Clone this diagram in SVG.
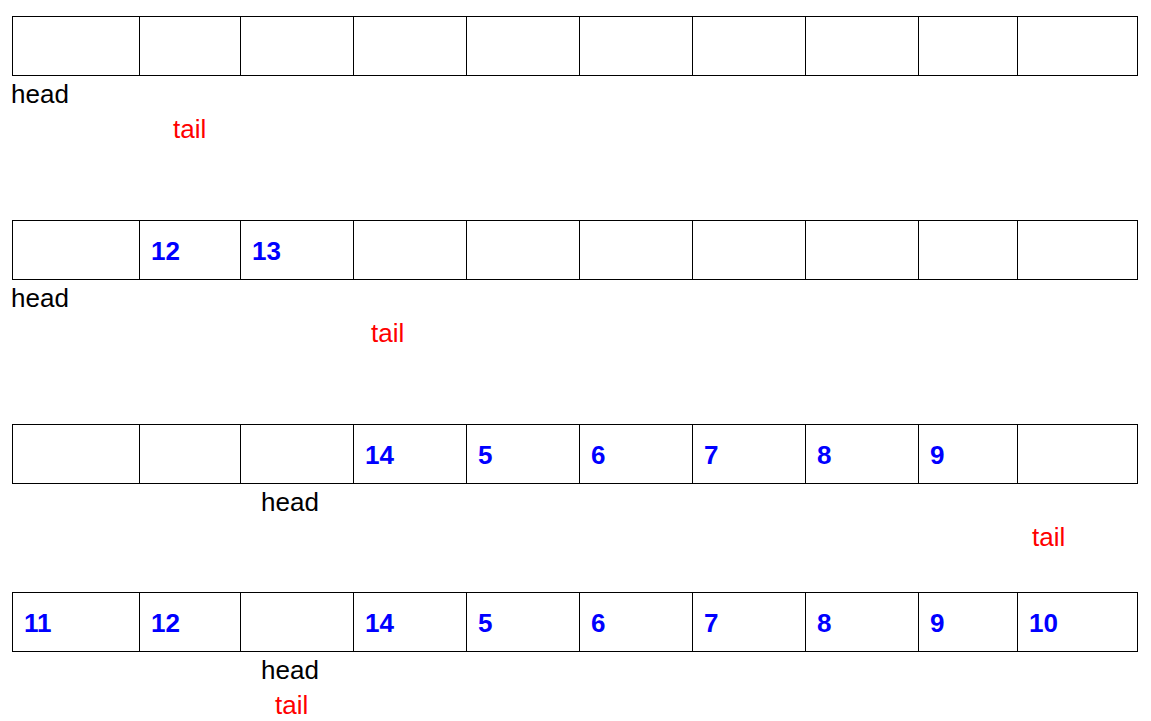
<svg xmlns="http://www.w3.org/2000/svg" width="1151" height="721" viewBox="0 0 1151 721">
<style>
.c{fill:#fff;stroke:#000;stroke-width:1}
.v{font-family:"Liberation Sans",Arial,sans-serif;font-size:26px;font-weight:bold;fill:#0000ff}
.h{font-family:"Liberation Sans",Arial,sans-serif;font-size:26px;fill:#000}
.t{font-family:"Liberation Sans",Arial,sans-serif;font-size:26px;fill:#ff0000}
</style>
<rect width="1151" height="721" fill="#fff"/>
<g id="row1">
<rect class="c" x="12.5" y="16.5" width="127" height="59"/>
<rect class="c" x="139.5" y="16.5" width="101" height="59"/>
<rect class="c" x="240.5" y="16.5" width="113" height="59"/>
<rect class="c" x="353.5" y="16.5" width="113" height="59"/>
<rect class="c" x="466.5" y="16.5" width="113" height="59"/>
<rect class="c" x="579.5" y="16.5" width="113" height="59"/>
<rect class="c" x="692.5" y="16.5" width="113" height="59"/>
<rect class="c" x="805.5" y="16.5" width="113" height="59"/>
<rect class="c" x="918.5" y="16.5" width="99" height="59"/>
<rect class="c" x="1017.5" y="16.5" width="120" height="59"/>
</g>
<g id="row1-labels">
<text class="h" x="11" y="102.5">head</text>
<text class="t" x="173" y="137.5">tail</text>
</g>
<g id="row2">
<rect class="c" x="12.5" y="220.5" width="127" height="59"/>
<rect class="c" x="139.5" y="220.5" width="101" height="59"/>
<rect class="c" x="240.5" y="220.5" width="113" height="59"/>
<rect class="c" x="353.5" y="220.5" width="113" height="59"/>
<rect class="c" x="466.5" y="220.5" width="113" height="59"/>
<rect class="c" x="579.5" y="220.5" width="113" height="59"/>
<rect class="c" x="692.5" y="220.5" width="113" height="59"/>
<rect class="c" x="805.5" y="220.5" width="113" height="59"/>
<rect class="c" x="918.5" y="220.5" width="99" height="59"/>
<rect class="c" x="1017.5" y="220.5" width="120" height="59"/>
<text class="v" x="151" y="259.5">12</text>
<text class="v" x="252" y="259.5">13</text>
</g>
<g id="row2-labels">
<text class="h" x="11" y="306.5">head</text>
<text class="t" x="371" y="341.5">tail</text>
</g>
<g id="row3">
<rect class="c" x="12.5" y="424.5" width="127" height="59"/>
<rect class="c" x="139.5" y="424.5" width="101" height="59"/>
<rect class="c" x="240.5" y="424.5" width="113" height="59"/>
<rect class="c" x="353.5" y="424.5" width="113" height="59"/>
<rect class="c" x="466.5" y="424.5" width="113" height="59"/>
<rect class="c" x="579.5" y="424.5" width="113" height="59"/>
<rect class="c" x="692.5" y="424.5" width="113" height="59"/>
<rect class="c" x="805.5" y="424.5" width="113" height="59"/>
<rect class="c" x="918.5" y="424.5" width="99" height="59"/>
<rect class="c" x="1017.5" y="424.5" width="120" height="59"/>
<text class="v" x="365" y="463.5">14</text>
<text class="v" x="478" y="463.5">5</text>
<text class="v" x="591" y="463.5">6</text>
<text class="v" x="704" y="463.5">7</text>
<text class="v" x="817" y="463.5">8</text>
<text class="v" x="930" y="463.5">9</text>
</g>
<g id="row3-labels">
<text class="h" x="261" y="510.5">head</text>
<text class="t" x="1032" y="545.5">tail</text>
</g>
<g id="row4">
<rect class="c" x="12.5" y="592.5" width="127" height="59"/>
<rect class="c" x="139.5" y="592.5" width="101" height="59"/>
<rect class="c" x="240.5" y="592.5" width="113" height="59"/>
<rect class="c" x="353.5" y="592.5" width="113" height="59"/>
<rect class="c" x="466.5" y="592.5" width="113" height="59"/>
<rect class="c" x="579.5" y="592.5" width="113" height="59"/>
<rect class="c" x="692.5" y="592.5" width="113" height="59"/>
<rect class="c" x="805.5" y="592.5" width="113" height="59"/>
<rect class="c" x="918.5" y="592.5" width="99" height="59"/>
<rect class="c" x="1017.5" y="592.5" width="120" height="59"/>
<text class="v" x="24" y="631.5">11</text>
<text class="v" x="151" y="631.5">12</text>
<text class="v" x="365" y="631.5">14</text>
<text class="v" x="478" y="631.5">5</text>
<text class="v" x="591" y="631.5">6</text>
<text class="v" x="704" y="631.5">7</text>
<text class="v" x="817" y="631.5">8</text>
<text class="v" x="930" y="631.5">9</text>
<text class="v" x="1029" y="631.5">10</text>
</g>
<g id="row4-labels">
<text class="h" x="261" y="678.5">head</text>
<text class="t" x="275" y="713.5">tail</text>
</g>
<g id="connectors"></g>
</svg>
